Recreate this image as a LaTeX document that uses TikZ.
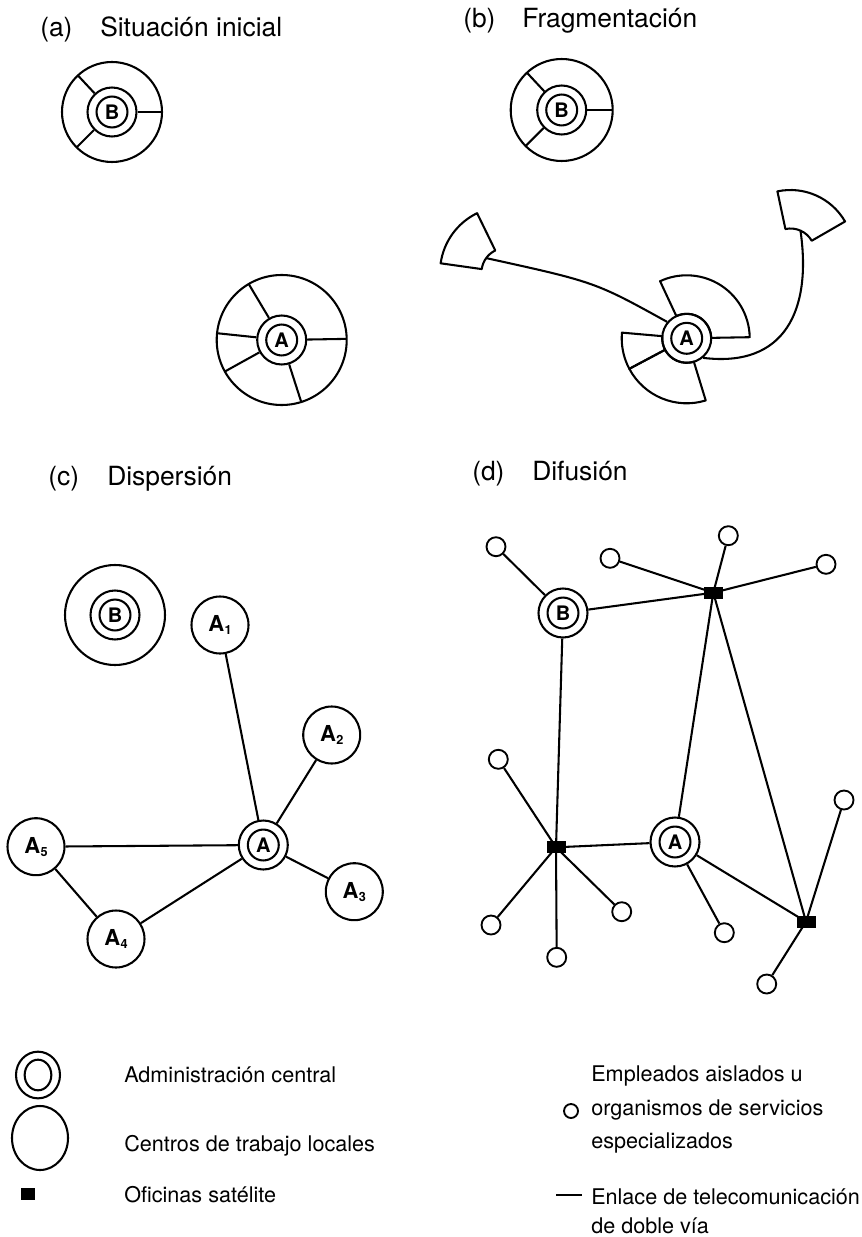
\documentclass[tikz,border=0pt]{standalone}
\usepackage{fontspec}
\setmainfont{TeX Gyre Heros}
\usetikzlibrary{calc,shapes.geometric}

% subscript digit for the local centres
\newcommand\sbs[1]{\kern0.3pt\raisebox{-2.5pt}{\fontsize{9.5}{9.5}\selectfont\bfseries #1}}
% annular sector: centre, start angle, end angle, inner radius, outer radius
\newcommand\annsec[5]{\draw[ln,line join=round] ($(#1)+(#2:#4)$) -- ($(#1)+(#2:#5)$)
  arc[start angle=#2,end angle=#3,radius=#5] -- ($(#1)+(#3:#4)$)
  arc[start angle=#3,end angle=#2,radius=#4] -- cycle;}

\begin{document}
\begin{tikzpicture}[x=0.75pt,y=0.75pt,
  ln/.style={line width=1.55pt},
  central/.style={circle,draw,line width=1.55pt,minimum size=36.75pt,inner sep=0pt,
    font=\bfseries\fontsize{15}{15}\selectfont,
    path picture={\draw[line width=1.55pt] (path picture bounding box.center) circle[radius=11.6pt];}},
  local/.style={circle,draw,line width=1.55pt,minimum size=42.75pt,inner sep=0pt,
    font=\bfseries\fontsize{16.5}{16.5}\selectfont},
  emp/.style={circle,draw,line width=1.4pt,minimum size=14.25pt,inner sep=0pt},
  sat/.style={rectangle,fill=black,minimum width=14.25pt,minimum height=9pt,inner sep=0pt},
  title/.style={anchor=base west,inner sep=0pt,font=\fontsize{19.8}{24}\selectfont},
  keytext/.style={anchor=west,inner sep=0pt,font=\fontsize{16.2}{19}\selectfont},
]
\useasboundingbox (0,0) rectangle (861,-1237);

% ---------- titles ----------
\node[title] (ta) at (40,-36.7) {(a)};
\node[title] (tan) at (100,-36.7) {Situación inicial};
\node[title] (tb) at (463,-27.7) {(b)};
\node[title] (tbn) at (522,-27.7) {Fragmentación};
\node[title] (tc) at (48,-485) {(c)};
\node[title] (tcn) at (107,-485) {Dispersión};
\node[title] (td) at (472,-480) {(d)};
\node[title] (tdn) at (532,-480) {Difusión};

% ---------- (a) initial situation ----------
\node[central] (Ba) at (112,-112) {B};
\draw[ln] (Ba) circle[radius=50];
\foreach \t in {0,133,225} \draw[ln] (Ba.\t) -- ($(Ba)+(\t:50)$);
\node[central] (Aa) at (281.7,-340) {A};
\draw[ln] (Aa) circle[radius=65];
\foreach \t in {1,120.5,174,209,287.5} \draw[ln] (Aa.\t) -- ($(Aa)+(\t:65)$);

% ---------- (b) fragmentation ----------
\node[central] (Bb) at (561.7,-110) {B};
\draw[ln] (Bb) circle[radius=51];
\foreach \t in {0,133,225} \draw[ln] (Bb.\t) -- ($(Bb)+(\t:51)$);
\node[central] (Ab) at (686.7,-338.3) {A};
\annsec{Ab}{1}{115}{24.5}{63}
\annsec{Ab}{175}{208}{24.5}{65}
\annsec{Ab}{208}{287}{24.5}{65}
\coordinate (Lc) at (506,-272.5);
\annsec{Lc}{116}{172}{24.5}{66}
\coordinate (Lf) at ($(Lc)+(144:24.5)$);
\coordinate (Rc) at (790.5,-253);
\annsec{Rc}{30}{102}{24.5}{63}
\coordinate (Rf) at ($(Rc)+(66:24.5)$);
\draw[ln] (Lf) .. controls (595,-282) .. (Ab.140);
\draw[ln] (Ab.-50) .. controls (785,-368) and (812,-310) .. (Rf);

% ---------- (c) dispersion ----------
\node[central] (Bc) at (115,-615) {B};
\draw[ln] (Bc) circle[radius=50];
\node[central] (Ac) at (263.3,-845) {A};
\node[local] (A1) at (220,-625) {A\sbs{1}};
\node[local] (A2) at (331.7,-735) {A\sbs{2}};
\node[local] (A3) at (354.3,-891.7) {A\sbs{3}};
\node[local] (A4) at (116,-939) {A\sbs{4}};
\node[local] (A5) at (36,-846.7) {A\sbs{5}};
\foreach \n in {A1,A2,A3,A4,A5} \draw[ln] (Ac) -- (\n);
\draw[ln] (A5) -- (A4);

% ---------- (d) diffusion ----------
\node[central] (Bd) at (563,-613) {B};
\node[central] (Ad) at (675,-842) {A};
\node[emp] (e1) at (496,-546.7) {};
\node[emp] (e2) at (610,-558.3) {};
\node[emp] (e3) at (728.3,-535.7) {};
\node[emp] (e4) at (826,-564.3) {};
\node[emp] (e5) at (498.3,-759.3) {};
\node[emp] (e6) at (844,-800) {};
\node[emp] (e7) at (491,-925) {};
\node[emp] (e8) at (556.7,-957.3) {};
\node[emp] (e9) at (621.7,-911.7) {};
\node[emp] (e10) at (724.3,-932.7) {};
\node[emp] (e11) at (766.7,-984) {};
\coordinate (S1) at (713.3,-592.7);
\coordinate (S2) at (556,-847.3);
\coordinate (S3) at (806,-921.7);
\draw[ln] (e1) -- (Bd);
\draw[ln] (Bd) -- (S1);
\draw[ln] (Bd) -- (S2);
\draw[ln] (S1) -- (Ad);
\draw[ln] (S1) -- (S3);
\draw[ln] (S2) -- (Ad);
\draw[ln] (Ad) -- (S3);
\draw[ln] (Ad) -- (e10);
\foreach \n in {e2,e3,e4} \draw[ln] (S1) -- (\n);
\foreach \n in {e5,e7,e8,e9} \draw[ln] (S2) -- (\n);
\foreach \n in {e6,e11} \draw[ln] (S3) -- (\n);
% satellite offices drawn over the line ends
\node[sat] (S1b) at (S1) {};
\node[sat] (S2b) at (S2) {};
\node[sat] (S3b) at (S3) {};

% ---------- key ----------
\node[ellipse,draw,ln,minimum width=33pt,minimum height=35pt,inner sep=0pt] (kc) at (38,-1075) {};
\node[ellipse,draw,ln,minimum width=20pt,minimum height=23pt,inner sep=0pt] (kci) at (kc) {};
\node[ellipse,draw,ln,minimum width=42pt,minimum height=48pt,inner sep=0pt] (kl) at (40,-1138) {};
\node[sat,minimum width=10.5pt,minimum height=9pt] (ks) at (28,-1194) {};
\node[keytext] (t1) at (124,-1075) {Administración central};
\node[keytext] (t2) at (124,-1146) {Centros de trabajo locales};
\node[keytext] (t3) at (124,-1195) {Oficinas satélite};
\node[emp,minimum size=10.5pt] (ke) at (571,-1111) {};
\node[keytext] (t4) at (591,-1076) {Empleados aislados u};
\node[keytext] (t5) at (591,-1110) {organismos de servicios};
\node[keytext] (t6) at (591,-1143) {especializados};
\coordinate (k1) at (556,-1195);
\coordinate (k2) at (582,-1195);
\draw[ln] (k1) -- (k2);
\node[keytext] (t7) at (591,-1197) {Enlace de telecomunicación};
\node[keytext] (t8) at (591,-1226) {de doble vía};
\end{tikzpicture}
\end{document}
